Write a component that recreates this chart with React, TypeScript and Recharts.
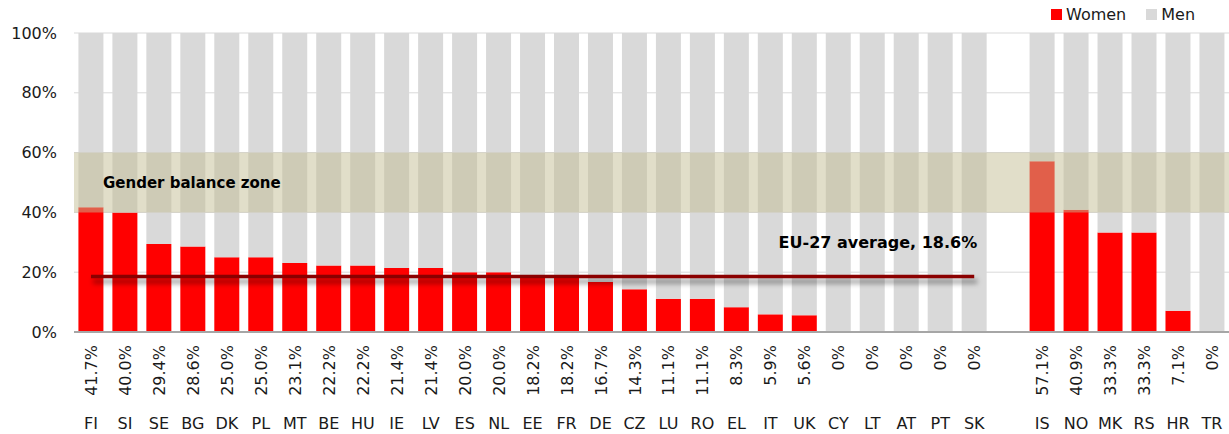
import {
  Bar,
  BarChart,
  CartesianGrid,
  Legend,
  ReferenceArea,
  ReferenceLine,
  XAxis,
  YAxis,
} from 'recharts';

if (typeof document !== 'undefined') document.body.style.margin = '0';

const countries = [
  'FI', 'SI', 'SE', 'BG', 'DK', 'PL', 'MT', 'BE', 'HU', 'IE', 'LV', 'ES', 'NL', 'EE',
  'FR', 'DE', 'CZ', 'LU', 'RO', 'EL', 'IT', 'UK', 'CY', 'LT', 'AT', 'PT', 'SK', '',
  'IS', 'NO', 'MK', 'RS', 'HR', 'TR',
];

const women: (number | null)[] = [
  41.7, 40.0, 29.4, 28.6, 25.0, 25.0, 23.1, 22.2, 22.2, 21.4, 21.4, 20.0, 20.0, 18.2,
  18.2, 16.7, 14.3, 11.1, 11.1, 8.3, 5.9, 5.6, 0, 0, 0, 0, 0, null,
  57.1, 40.9, 33.3, 33.3, 7.1, 0,
];

const valueLabels = [
  '41.7%', '40.0%', '29.4%', '28.6%', '25.0%', '25.0%', '23.1%', '22.2%', '22.2%', '21.4%',
  '21.4%', '20.0%', '20.0%', '18.2%', '18.2%', '16.7%', '14.3%', '11.1%', '11.1%', '8.3%',
  '5.9%', '5.6%', '0%', '0%', '0%', '0%', '0%', '',
  '57.1%', '40.9%', '33.3%', '33.3%', '7.1%', '0%',
];

const yTicks = [0, 20, 40, 60, 80, 100];
const euAverage = 18.6;
const balanceZone = [40, 60];

const data = countries.map((c, i) => ({
  country: c,
  women: women[i],
  men: women[i] == null ? null : 100 - (women[i] as number),
}));

const FONT = '"DejaVu Sans", Verdana, sans-serif';

// value (rotated) + country code under each bar
const CountryTick = ({ x, y, payload }: any) => {
  const i = payload.index;
  return (
    <g>
      <text
        x={x + 6}
        y={y + 13}
        transform={`rotate(-90, ${x + 6}, ${y + 13})`}
        textAnchor="end"
        fontSize={16}
        fontFamily={FONT}
        fill="#1a1a1a"
      >
        {valueLabels[i]}
      </text>
      <text x={x} y={y + 97} textAnchor="middle" fontSize={16} fontFamily={FONT} fill="#1a1a1a">
        {payload.value}
      </text>
    </g>
  );
};

// average line with a soft drop shadow (userSpaceOnUse: a flat line has a zero-height bbox)
const AvgLine = (props: any) => {
  const { x1, y1, x2, y2 } = props;
  return (
    <g>
      <defs>
        <filter
          id="avgShadow"
          filterUnits="userSpaceOnUse"
          x={x1 - 20}
          y={y1 - 20}
          width={x2 - x1 + 40}
          height={40}
        >
          <feGaussianBlur stdDeviation="2.5" />
        </filter>
      </defs>
      <line
        x1={x1 + 2}
        y1={y1 + 5}
        x2={x2 + 3}
        y2={y2 + 5}
        stroke="#000"
        strokeOpacity={0.4}
        strokeWidth={4}
        filter="url(#avgShadow)"
      />
      <line x1={x1} y1={y1} x2={x2} y2={y2} stroke="#8b0000" strokeWidth={3.5} />
    </g>
  );
};

const AvgLabel = ({ viewBox }: any) => {
  const { x, y, width } = viewBox;
  return (
    <text
      x={x + width + 3}
      y={y - 28}
      textAnchor="end"
      fontSize={16}
      fontWeight="bold"
      fontFamily={FONT}
      fill="#000"
    >
      EU-27 average, 18.6%
    </text>
  );
};

const LegendBox = () => (
  <div style={{ display: 'flex', fontFamily: FONT, fontSize: 16, color: '#1a1a1a' }}>
    <span style={{ display: 'flex', alignItems: 'center', marginRight: 20 }}>
      <span style={{ width: 11, height: 11, background: '#ff0000', marginRight: 4 }} />
      Women
    </span>
    <span style={{ display: 'flex', alignItems: 'center' }}>
      <span style={{ width: 11, height: 11, background: '#d9d9d9', marginRight: 4 }} />
      Men
    </span>
  </div>
);

export default function App() {
  return (
    <BarChart
      width={1229}
      height={434}
      data={data}
      margin={{ top: 33, right: 0, left: 0, bottom: 2 }}
      barCategoryGap="13%"
    >
      <CartesianGrid vertical={false} stroke="#d9d9d9" strokeWidth={1} />
      <XAxis
        dataKey="country"
        interval={0}
        tickLine={false}
        tickSize={0}
        tickMargin={0}
        height={100}
        axisLine={{ stroke: '#a6a6a6', strokeWidth: 2 }}
        tick={<CountryTick />}
      />
      <YAxis
        width={74}
        domain={[0, 100]}
        ticks={yTicks}
        tickFormatter={(v) => `${v}%`}
        axisLine={false}
        tickLine={false}
        tickSize={0}
        tickMargin={17}
        tick={{ fontSize: 16, fontFamily: FONT, fill: '#1a1a1a' }}
      />
      <Legend
        layout="horizontal"
        verticalAlign="middle"
        align="center"
        wrapperStyle={{ top: 5, left: 1051, width: 'auto' }}
        content={<LegendBox />}
      />
      <Bar dataKey="women" stackId="a" fill="#ff0000" isAnimationActive={false} />
      <Bar dataKey="men" stackId="a" fill="#d9d9d9" isAnimationActive={false} />
      <ReferenceArea
        y1={balanceZone[0]}
        y2={balanceZone[1]}
        fill="rgb(195,189,147)"
        fillOpacity={0.5}
        stroke="none"
        zIndex={600}
        label={{
          value: 'Gender balance zone',
          position: 'insideLeft',
          offset: 29,
          fontSize: 15,
          fontWeight: 'bold',
          fontFamily: FONT,
          fill: '#000',
        }}
      />
      <ReferenceLine
        segment={[
          { x: 'FI', y: euAverage },
          { x: 'SK', y: euAverage },
        ]}
        zIndex={700}
        shape={<AvgLine />}
        label={<AvgLabel />}
      />
    </BarChart>
  );
}
